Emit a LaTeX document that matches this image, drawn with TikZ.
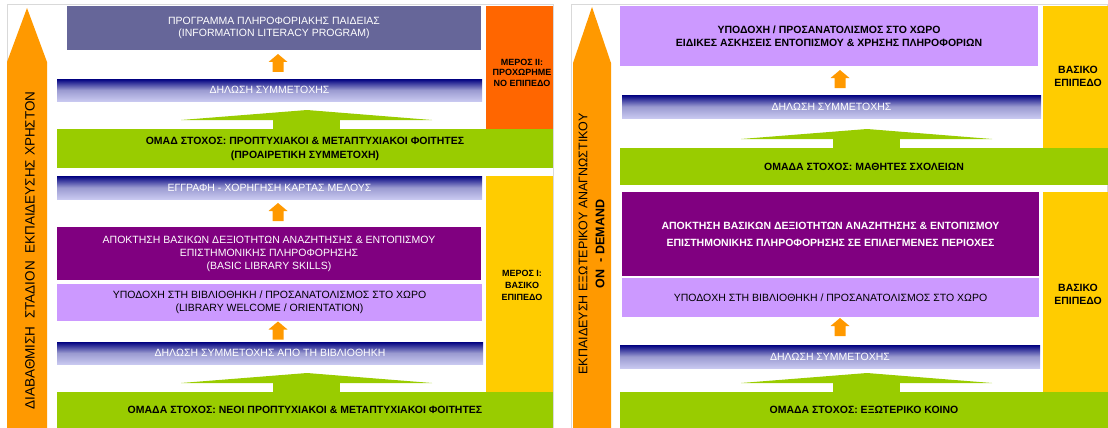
\documentclass[tikz,border=0pt]{standalone}
\usepackage{fontspec}
\setmainfont{Liberation Sans}
\definecolor{slate}{HTML}{666699}
\definecolor{grn}{HTML}{99CC00}
\definecolor{purp}{HTML}{800080}
\definecolor{lav}{HTML}{CC99FF}
\definecolor{yel}{HTML}{FFCC00}
\definecolor{orng}{HTML}{FF6600}
\definecolor{arrc}{HTML}{FF9900}
\definecolor{navyc}{HTML}{000080}
\definecolor{bandmid}{HTML}{9A9AD0}
\definecolor{bandbot}{HTML}{C8C8F0}
\definecolor{framec}{HTML}{D9D9D9}
\tikzset{
 box/.style={draw=none, inner sep=0pt, align=center, font=\fontsize{10.5}{13}\selectfont},
 boldbox/.style={box, font=\fontsize{10.5}{13}\selectfont\bfseries},
 band/.style={box, top color=navyc, bottom color=bandbot, middle color=bandmid, text=white},
 sidetext/.style={align=center, inner sep=0pt, font=\fontsize{9}{11}\selectfont\bfseries},
 uparr/.pic={\fill[arrc] (0,0) -- (9.5,8) -- (5.5,8) -- (5.5,18) -- (-5.5,18) -- (-5.5,8) -- (-9.5,8) -- cycle;},
 grnup/.pic={\fill[grn] (-126,10) -- (0,0) -- (125,10) -- cycle; \fill[grn] (-34,9.5) rectangle (33,19.5);}
}
\begin{document}
\begin{tikzpicture}[x=1pt,y=-1pt]
\useasboundingbox (0,0) rectangle (1108,428);
% frames
\draw[framec, line width=1pt] (7,5) rectangle (553,432);
\draw[framec, line width=1pt] (571,5) rectangle (1107.5,432);

% ===== left panel =====
\fill[arrc] (7,432) -- (7,62) -- (27,8) -- (47,62) -- (47,432) -- cycle;
\node[rotate=90, inner sep=0pt, font=\fontsize{13.5}{16}\selectfont] (lt) at (30,250.5) {ΔΙΑΒΑΘΜΙΣΗ~~ΣΤΑΔΙΟΝ~~ΕΚΠΑΙΔΕΥΣΗΣ ΧΡΗΣΤΟΝ};

\node[box, fill=slate, text=white, minimum width=414pt, minimum height=44pt, font=\fontsize{10.5}{12}\selectfont] (l1) at (274,28) {ΠΡΟΓΡΑΜΜΑ ΠΛΗΡΟΦΟΡΙΑΚΗΣ ΠΑΙΔΕΙΑΣ\\(INFORMATION LITERACY PROGRAM)};
\node[box, fill=orng, minimum width=67pt, minimum height=124pt] (l2) at (519.5,68) {};
\node[sidetext, font=\fontsize{9}{10.5}\selectfont\bfseries] (l2t) at (522,72.5) {ΜΕΡΟΣ ΙΙ:\\ΠΡΟΧΩΡΗΜΕ\\ΝΟ ΕΠΙΠΕΔΟ};
\pic (a1) at (278,54) {uparr};
\node[band, minimum width=425pt, minimum height=22pt] (l3) at (269.5,90) {ΔΗΛΩΣΗ ΣΥΜΜΕΤΟΧΗΣ};
\pic (g1) at (307,110) {grnup};
\node[boldbox, fill=grn, minimum width=496pt, minimum height=39pt, font=\fontsize{10.5}{14}\selectfont\bfseries] (l4) at (305,148.5) {ΟΜΑΔ ΣΤΟΧΟΣ: ΠΡΟΠΤΥΧΙΑΚΟΙ \& ΜΕΤΑΠΤΥΧΙΑΚΟΙ ΦΟΙΤΗΤΕΣ\\(ΠΡΟΑΙΡΕΤΙΚΗ ΣΥΜΜΕΤΟΧΗ)};
\node[band, minimum width=425pt, minimum height=23pt] (l5) at (269.5,187.5) {ΕΓΓΡΑΦΗ - ΧΟΡΗΓΗΣΗ ΚΑΡΤΑΣ ΜΕΛΟΥΣ};
\node[box, fill=yel, minimum width=67pt, minimum height=216pt] (l6) at (519.5,284) {};
\node[sidetext, font=\fontsize{9}{12}\selectfont\bfseries] (l6t) at (522,285) {ΜΕΡΟΣ Ι:\\ΒΑΣΙΚΟ\\ΕΠΙΠΕΔΟ};
\pic (a2) at (278,203) {uparr};
\node[box, fill=purp, text=white, minimum width=424pt, minimum height=53pt] (l7) at (269,253.5) {ΑΠΟΚΤΗΣΗ ΒΑΣΙΚΩΝ ΔΕΞΙΟΤΗΤΩΝ ΑΝΑΖΗΤΗΣΗΣ \& ΕΝΤΟΠΙΣΜΟΥ\\ΕΠΙΣΤΗΜΟΝΙΚΗΣ ΠΛΗΡΟΦΟΡΗΣΗΣ\\(BASIC LIBRARY SKILLS)};
\node[box, fill=lav, minimum width=425pt, minimum height=37pt] (l8) at (269.5,302.5) {ΥΠΟΔΟΧΗ ΣΤΗ ΒΙΒΛΙΟΘΗΚΗ / ΠΡΟΣΑΝΑΤΟΛΙΣΜΟΣ ΣΤΟ ΧΩΡΟ\\(LIBRARY WELCOME / ORIENTATION)};
\pic (a3) at (278,321.5) {uparr};
\node[band, minimum width=426pt, minimum height=22pt] (l9) at (270,353) {ΔΗΛΩΣΗ ΣΥΜΜΕΤΟΧΗΣ ΑΠΟ ΤΗ ΒΙΒΛΙΟΘΗΚΗ};
\pic (g2) at (307,373) {grnup};
\node[boldbox, fill=grn, minimum width=496pt, minimum height=36pt] (l10) at (305,410) {ΟΜΑΔΑ ΣΤΟΧΟΣ: ΝΕΟΙ ΠΡΟΠΤΥΧΙΑΚΟΙ \& ΜΕΤΑΠΤΥΧΙΑΚΟΙ ΦΟΙΤΗΤΕΣ};

% ===== right panel =====
\fill[arrc] (573,432) -- (573,63) -- (592,7) -- (611,63) -- (611,432) -- cycle;
\node[rotate=90, inner sep=0pt, align=center, font=\fontsize{12.5}{17}\selectfont] (rt) at (591.5,244) {ΕΚΠΑΙΔΕΥΣΗ ΕΞΩΤΕΡΙΚΟΥ ΑΝΑΓΝΩΣΤΙΚΟΥ\\\textbf{ON~~- DEMAND}};

\node[boldbox, fill=lav, minimum width=418pt, minimum height=60pt] (r1) at (829,36) {ΥΠΟΔΟΧΗ / ΠΡΟΣΑΝΑΤΟΛΙΣΜΟΣ ΣΤΟ ΧΩΡΟ\\ΕΙΔΙΚΕΣ ΑΣΚΗΣΕΙΣ ΕΝΤΟΠΙΣΜΟΥ \& ΧΡΗΣΗΣ ΠΛΗΡΟΦΟΡΙΩΝ};
\node[box, fill=yel, minimum width=65pt, minimum height=142pt] (r2) at (1075.5,77) {};
\node[sidetext, font=\fontsize{10.5}{13}\selectfont\bfseries] (r2t) at (1078,76.5) {ΒΑΣΙΚΟ\\ΕΠΙΠΕΔΟ};
\pic (b1) at (840,70) {uparr};
\node[band, minimum width=419pt, minimum height=23pt] (r3) at (831.5,106.5) {ΔΗΛΩΣΗ ΣΥΜΜΕΤΟΧΗΣ};
\pic (h1) at (867,129) {grnup};
\node[boldbox, fill=grn, minimum width=488pt, minimum height=37pt] (r4) at (864,166.5) {ΟΜΑΔΑ ΣΤΟΧΟΣ: ΜΑΘΗΤΕΣ ΣΧΟΛΕΙΩΝ};
\node[boldbox, fill=purp, text=white, minimum width=417pt, minimum height=84pt, font=\fontsize{10.5}{17}\selectfont\bfseries] (r5) at (830.5,234) {ΑΠΟΚΤΗΣΗ ΒΑΣΙΚΩΝ ΔΕΞΙΟΤΗΤΩΝ ΑΝΑΖΗΤΗΣΗΣ \& ΕΝΤΟΠΙΣΜΟΥ\\ΕΠΙΣΤΗΜΟΝΙΚΗΣ ΠΛΗΡΟΦΟΡΗΣΗΣ ΣΕ ΕΠΙΛΕΓΜΕΝΕΣ ΠΕΡΙΟΧΕΣ};
\node[box, fill=yel, minimum width=65pt, minimum height=200pt] (r6) at (1075.5,292) {};
\node[sidetext, font=\fontsize{10.5}{13}\selectfont\bfseries] (r6t) at (1078,294.5) {ΒΑΣΙΚΟ\\ΕΠΙΠΕΔΟ};
\node[box, fill=lav, minimum width=417pt, minimum height=39pt] (r7) at (830.5,297.5) {ΥΠΟΔΟΧΗ ΣΤΗ ΒΙΒΛΙΟΘΗΚΗ / ΠΡΟΣΑΝΑΤΟΛΙΣΜΟΣ ΣΤΟ ΧΩΡΟ};
\pic (b2) at (840,318) {uparr};
\node[band, minimum width=420pt, minimum height=23pt] (r8) at (830,356.5) {ΔΗΛΩΣΗ ΣΥΜΜΕΤΟΧΗΣ};
\pic (h2) at (867,373) {grnup};
\node[boldbox, fill=grn, minimum width=488pt, minimum height=36pt] (r9) at (864,410) {ΟΜΑΔΑ ΣΤΟΧΟΣ: ΕΞΩΤΕΡΙΚΟ ΚΟΙΝΟ};
\end{tikzpicture}
\end{document}
